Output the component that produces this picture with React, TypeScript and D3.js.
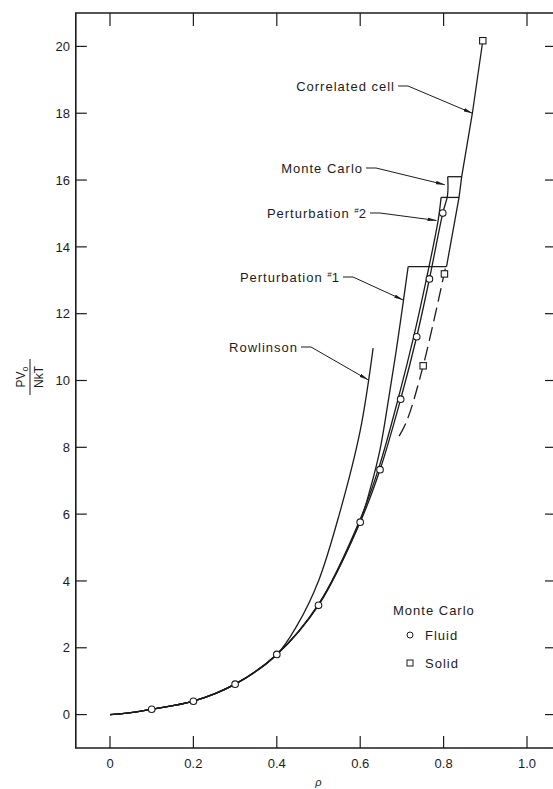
import React, { useEffect, useRef } from 'react';
import * as d3 from 'd3';

type Pt = [number, number];

// axis ticks
const X_TICKS = [0, 0.2, 0.4, 0.6, 0.8, 1.0];
const X_TICK_LABELS = ['0', '0.2', '0.4', '0.6', '0.8', '1.0'];
const Y_TICKS = [0, 2, 4, 6, 8, 10, 12, 14, 16, 18, 20];

// Monte Carlo points (rho, PV0/NkT)
const FLUID_RHO = [0.1, 0.2, 0.3, 0.4, 0.5, 0.6, 0.6475, 0.697, 0.7355, 0.766, 0.798];
const FLUID_PV = [0.16, 0.4, 0.91, 1.8, 3.27, 5.76, 7.33, 9.44, 11.31, 13.04, 15.01];
const SOLID_RHO = [0.894, 0.802, 0.751];
const SOLID_PV = [20.17, 13.19, 10.44];

// curves
const LOW_DENSITY: Pt[] = [[0, 0], [0.05, 0.06], [0.1, 0.16], [0.2, 0.4], [0.3, 0.91], [0.4, 1.8]];
const ROWLINSON: Pt[] = [[0.45, 2.7], [0.5, 4.0], [0.55, 6.0], [0.6, 8.5], [0.631, 10.97]];
const MC_FLUID: Pt[] = [[0.5, 3.27], [0.6, 5.76], [0.6475, 7.33], [0.697, 9.44], [0.7355, 11.31], [0.766, 13.04], [0.798, 15.01], [0.8095, 15.55], [0.8098, 16.1]];
const PERT2_FLUID: Pt[] = [[0.5, 3.3], [0.6, 5.85], [0.645, 7.4], [0.692, 9.5], [0.729, 11.35], [0.759, 13.05], [0.787, 14.8], [0.794, 15.48]];
const PERT1_FLUID: Pt[] = [[0.5, 3.3], [0.6, 5.8], [0.625, 6.8], [0.647, 7.9], [0.665, 9.2], [0.69, 11.2], [0.715, 13.41]];
const SOLID_BRANCH: Pt[] = [[0.807, 13.41], [0.837, 15.48], [0.8434, 16.1], [0.869, 18.0], [0.894, 20.17]];
const SOLID_DASHED: Pt[] = [[0.804, 13.35], [0.751, 10.44], [0.711, 8.77], [0.687, 8.2]];

// fluid-solid tie lines: [rho fluid, rho solid, PV0/NkT]
const TIE_LINES: [number, number, number][] = [
  [0.8098, 0.8434, 16.1], // Monte Carlo
  [0.794, 0.837, 15.48], // Perturbation #2
  [0.715, 0.807, 13.41], // Perturbation #1
];

const ANNOTATIONS = [
  { text: 'Correlated cell', sup: '', tail: '', x: 395, y: 86, target: [0.869, 18.0] as Pt },
  { text: 'Monte Carlo', sup: '', tail: '', x: 363, y: 168, target: [0.803, 15.86] as Pt },
  { text: 'Perturbation ', sup: '#', tail: '2', x: 367, y: 213, target: [0.783, 14.79] as Pt },
  { text: 'Perturbation ', sup: '#', tail: '1', x: 340, y: 277, target: [0.703, 12.41] as Pt },
  { text: 'Rowlinson', sup: '', tail: '', x: 298, y: 347, target: [0.619, 10.02] as Pt },
];

const INK = '#1c1c1c';
const FONT = '"Liberation Sans", Arial, sans-serif';

const App: React.FC = () => {
  const svgRef = useRef<SVGSVGElement>(null);

  useEffect(() => {
    if (!svgRef.current) return;
    const W = 553;
    const H = 789;
    const svg = d3.select(svgRef.current);
    svg.selectAll('*').remove();

    const x = d3.scaleLinear().domain([0, 1]).range([110, 527]);
    const y = d3.scaleLinear().domain([-1, 21]).range([748, 13]);
    const left = x(-0.082);
    const right = W;
    const top = y(21);
    const bottom = y(-1);

    svg.append('rect').attr('width', W).attr('height', H).attr('fill', '#fff');

    const defs = svg.append('defs');
    defs.append('marker')
      .attr('id', 'arrow')
      .attr('viewBox', '0 0 10 4')
      .attr('refX', 10)
      .attr('refY', 2)
      .attr('markerWidth', 9)
      .attr('markerHeight', 3.6)
      .attr('markerUnits', 'userSpaceOnUse')
      .attr('orient', 'auto')
      .append('path')
      .attr('d', 'M0,0 L10,2 L0,4 Z')
      .attr('fill', INK);

    // frame
    svg.append('path')
      .attr('d', `M${right},${top} L${left},${top} L${left},${bottom} L${right},${bottom}`)
      .attr('fill', 'none')
      .attr('stroke', INK)
      .attr('stroke-width', 1.6);

    // ticks
    const tk = svg.append('g').attr('stroke', INK).attr('stroke-width', 1.2);
    X_TICKS.forEach((t) => {
      tk.append('line').attr('x1', x(t)).attr('x2', x(t)).attr('y1', bottom).attr('y2', bottom - 12);
      tk.append('line').attr('x1', x(t)).attr('x2', x(t)).attr('y1', top).attr('y2', top + 13);
    });
    Y_TICKS.forEach((t) => {
      tk.append('line').attr('x1', left).attr('x2', left + 11).attr('y1', y(t)).attr('y2', y(t));
      tk.append('line').attr('x1', right).attr('x2', right - 8).attr('y1', y(t)).attr('y2', y(t));
    });

    const labels = svg.append('g')
      .style('font-family', FONT)
      .style('font-size', '13px')
      .attr('fill', INK);
    X_TICKS.forEach((t, i) => {
      labels.append('text')
        .attr('x', x(t))
        .attr('y', 768)
        .attr('text-anchor', 'middle')
        .text(X_TICK_LABELS[i]);
    });
    Y_TICKS.forEach((t) => {
      labels.append('text')
        .attr('x', 70)
        .attr('y', y(t))
        .attr('dy', '0.36em')
        .attr('text-anchor', 'end')
        .text(String(t));
    });

    // axis titles
    svg.append('text')
      .attr('x', x(0.5))
      .attr('y', 786)
      .attr('text-anchor', 'middle')
      .style('font-family', FONT)
      .style('font-size', '11px')
      .style('font-style', 'italic')
      .attr('fill', INK)
      .text('ρ');

    const yl = svg.append('g')
      .attr('transform', 'translate(30,377) rotate(-90)')
      .style('font-family', FONT)
      .style('font-size', '12px')
      .attr('fill', INK);
    const num = yl.append('text').attr('x', 0).attr('y', -5).attr('text-anchor', 'middle');
    num.append('tspan').text('PV');
    num.append('tspan').attr('dy', 3).style('font-size', '9px').text('o');
    yl.append('line').attr('x1', -18).attr('x2', 18).attr('y1', 0).attr('y2', 0)
      .attr('stroke', INK).attr('stroke-width', 1);
    yl.append('text').attr('x', 0).attr('y', 13).attr('text-anchor', 'middle').text('NkT');

    // curves
    const smooth = d3.line<Pt>()
      .x((d) => x(d[0]))
      .y((d) => y(d[1]))
      .curve(d3.curveCatmullRom.alpha(0.5));
    const straight = d3.line<Pt>()
      .x((d) => x(d[0]))
      .y((d) => y(d[1]));

    const curves = svg.append('g')
      .attr('fill', 'none')
      .attr('stroke', INK)
      .attr('stroke-width', 1.3);

    [ROWLINSON, MC_FLUID, PERT2_FLUID, PERT1_FLUID].forEach((c) => {
      curves.append('path').attr('d', smooth([...LOW_DENSITY, ...c]) || '');
    });
    curves.append('path').attr('d', straight(SOLID_BRANCH) || '');
    curves.append('path')
      .attr('d', smooth(SOLID_DASHED) || '')
      .attr('stroke-dasharray', '14,6');
    TIE_LINES.forEach(([r0, r1, p]) => {
      curves.append('path').attr('d', straight([[r0, p], [r1, p]]) || '');
    });

    // Monte Carlo points
    const pts = svg.append('g').attr('fill', '#fff').attr('stroke', INK).attr('stroke-width', 1.1);
    FLUID_RHO.forEach((r, i) => {
      pts.append('circle').attr('cx', x(r)).attr('cy', y(FLUID_PV[i])).attr('r', 3.3);
    });
    SOLID_RHO.forEach((r, i) => {
      pts.append('rect')
        .attr('x', x(r) - 3.2)
        .attr('y', y(SOLID_PV[i]) - 3.2)
        .attr('width', 6.4)
        .attr('height', 6.4);
    });

    // annotations
    const ann = svg.append('g')
      .style('font-family', FONT)
      .style('font-size', '13px')
      .style('letter-spacing', '1px')
      .attr('fill', INK);
    ANNOTATIONS.forEach((a) => {
      const t = ann.append('text')
        .attr('x', a.x)
        .attr('y', a.y)
        .attr('dy', '0.36em')
        .attr('text-anchor', 'end');
      t.append('tspan').text(a.text);
      if (a.sup) {
        t.append('tspan').attr('dy', -5).style('font-size', '8px').style('letter-spacing', '0px').text(a.sup);
        t.append('tspan').attr('dy', 5).text(a.tail);
      }
      const tx = x(a.target[0]);
      const ty = y(a.target[1]);
      ann.append('path')
        .attr('d', `M${a.x + 3},${a.y} L${a.x + 13},${a.y} L${tx},${ty}`)
        .attr('fill', 'none')
        .attr('stroke', INK)
        .attr('stroke-width', 1)
        .attr('marker-end', 'url(#arrow)');
    });

    // legend
    const lg = svg.append('g')
      .style('font-family', FONT)
      .style('font-size', '13px')
      .style('letter-spacing', '1px')
      .attr('fill', INK);
    lg.append('text').attr('x', 393).attr('y', 610).attr('dy', '0.36em').text('Monte Carlo');
    lg.append('circle').attr('cx', 410).attr('cy', 635).attr('r', 3).attr('fill', '#fff').attr('stroke', INK);
    lg.append('text').attr('x', 425).attr('y', 635).attr('dy', '0.36em').text('Fluid');
    lg.append('rect').attr('x', 407).attr('y', 660).attr('width', 6).attr('height', 6).attr('fill', '#fff').attr('stroke', INK);
    lg.append('text').attr('x', 425).attr('y', 663).attr('dy', '0.36em').text('Solid');
  }, []);

  return (
    <svg
      ref={svgRef}
      width={553}
      height={789}
      style={{ position: 'absolute', left: 0, top: 0 }}
    />
  );
};

export default App;
